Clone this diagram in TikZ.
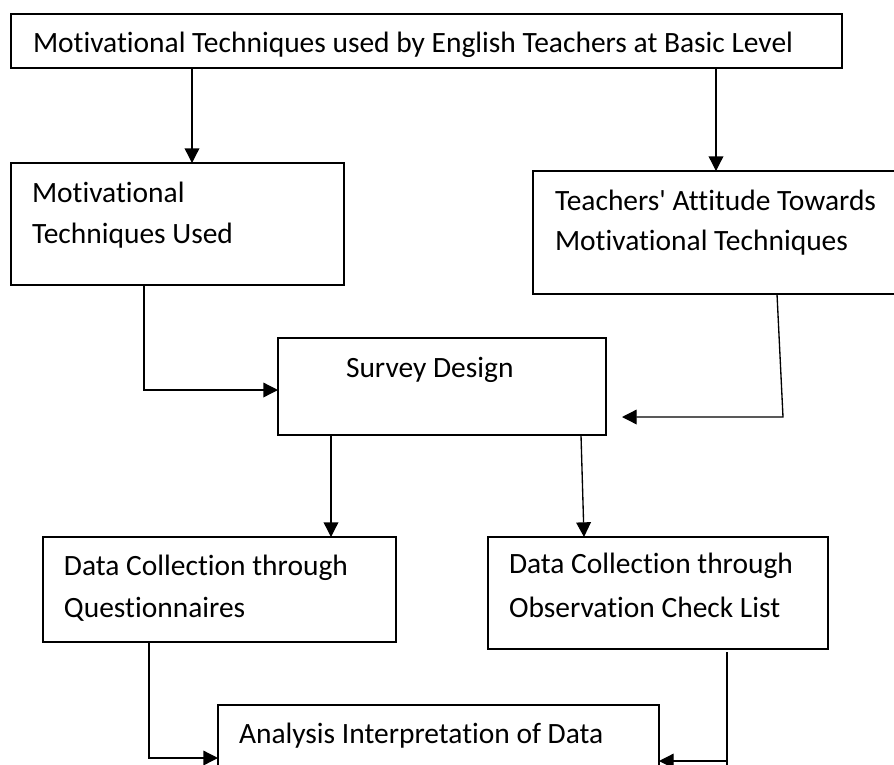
\documentclass[tikz,border=0pt]{standalone}
\usepackage{fontspec}
\setmainfont{Carlito}[Ligatures={NoCommon}]
\newfontfamily\boxfont{Carlito}[Ligatures={NoCommon}]
\usetikzlibrary{arrows.meta}
\tikzset{
  box/.style={draw, line width=1pt, inner sep=0pt, outer sep=0pt, anchor=north west},
  txt/.style={anchor=base west, inner sep=0pt, outer sep=0pt, font=\boxfont\fontsize{22.1pt}{30pt}\selectfont},
  arr/.style={line width=1pt, -{Triangle[length=11pt,width=11pt]}},
  conn/.style={line width=1pt}
}
\begin{document}
\begin{tikzpicture}[x=0.75pt,y=-0.75pt]
\useasboundingbox (0,0) rectangle (894,765);
\clip (0,0) rectangle (894,765);
% boxes
\node[box, minimum width=623.25pt, minimum height=40.5pt] (top) at (11,14) {};
\node[box, minimum width=249.75pt, minimum height=91.5pt] (A) at (11,163) {};
\node[box, minimum width=285pt, minimum height=92.25pt] (B) at (533,171) {};
\node[box, minimum width=246pt, minimum height=72.75pt] (S) at (278,338) {};
\node[box, minimum width=264.75pt, minimum height=78.75pt] (Q) at (43,537) {};
\node[box, minimum width=255pt, minimum height=84pt] (O) at (488,537) {};
\node[box, minimum width=330.75pt, minimum height=75pt] (An) at (218,705) {};
% texts
\node[txt] (ttop) at (33,52) {Motivational Techniques used by English Teachers at Basic Level};
\node[txt] (tA1) at (32,202) {Motivational};
\node[txt] (tA2) at (32,243) {Techniques Used};
\node[txt] (tB1) at (555,210) {Teachers\char"0027\ Attitude Towards};
\node[txt] (tB2) at (555,250) {Motivational Techniques};
\node[txt] (tS) at (346,377) {Survey Design};
\node[txt] (tQ1) at (64,575) {Data Collection through};
\node[txt] (tQ2) at (64,617) {Questionnaires};
\node[txt] (tO1) at (509,573) {Data Collection through};
\node[txt] (tO2) at (509,617) {Observation Check List};
\node[txt] (tAn) at (239,743) {Analysis Interpretation of Data};
% free ends
\coordinate (sin) at (622,417);
\coordinate (ostart) at (727,652);
\coordinate (oend) at (727,770);
\coordinate (obend) at (727,761);
% connectors
\draw[arr] (192,0 |- top.south) -- (192,0 |- A.north);
\draw[arr] (716,0 |- top.south) -- (716,0 |- B.north);
\draw[arr] (144,0 |- A.south) |- (S.west |- 0,390);
\draw[arr] (777,0 |- B.south) -- (783,417) -- (sin);
\draw[arr] (331,0 |- S.south) -- (331,0 |- Q.north);
\draw[arr] (581,0 |- S.south) -- (584,0 |- O.north);
\draw[arr] (149,0 |- Q.south) |- (An.west |- 0,758);
\draw[conn] (ostart) -- (oend);
\draw[arr] (obend) -- (An.east |- obend);
\end{tikzpicture}
\end{document}
